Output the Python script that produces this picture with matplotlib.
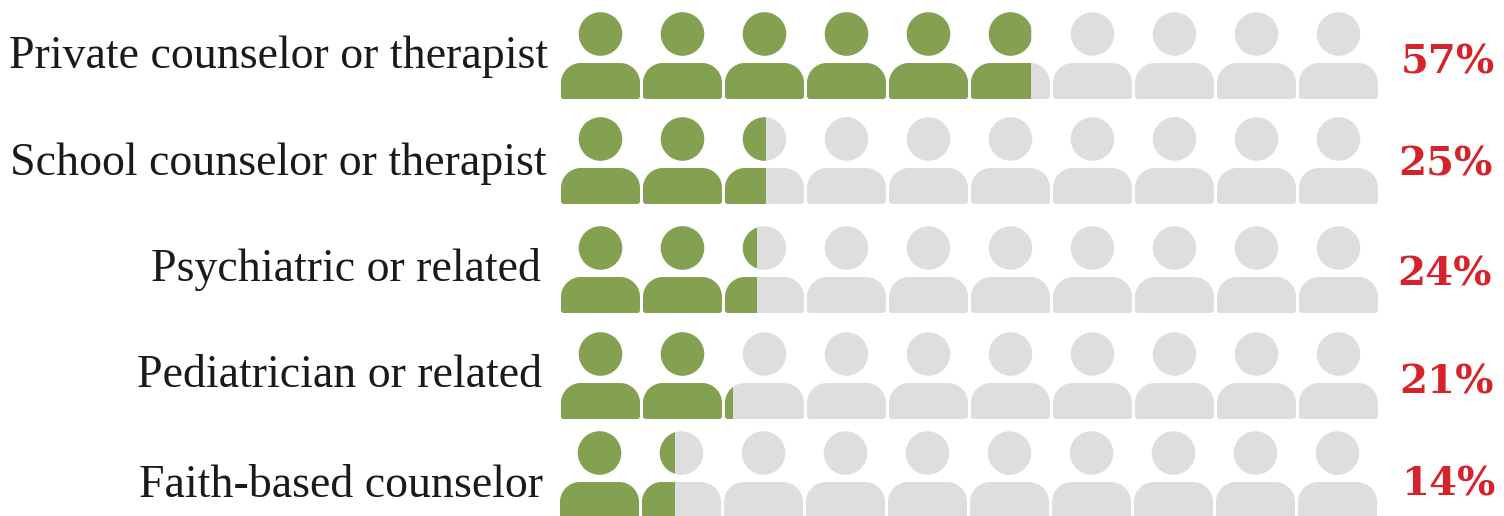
import matplotlib
matplotlib.use("Agg")
import matplotlib.pyplot as plt
from matplotlib.patches import Ellipse, PathPatch, Rectangle
from matplotlib.path import Path

categories = ["Private counselor or therapist", "School counselor or therapist",
              "Psychiatric or related", "Pediatrician or related", "Faith-based counselor"]
values = [57.4, 25, 24, 21, 14]
value_labels = ["57%", "25%", "24%", "21%", "14%"]
n_icons = 10

GREEN = "#84A151"; GREY = "#DEDEDE"; RED = "#D6232B"; INK = "#1A1A1A"
W, H = 1504, 516
PX_PER_PCT = 8.18
X0 = 561

head_y = [34, 139, 248, 354, 453]
body_top = [63, 168, 277, 383, 482]
row_dx = [0, 0, 0, 0, -1]
label_right = [548, 547, 541, 542, 543]
label_base = [68, 175, 281, 387, 497]
pct_x = [1448, 1445, 1444, 1446, 1448]
pct_base = [73.5, 175, 286, 393, 495]
label_fs = 33

fig = plt.figure(figsize=(W/100, H/100), dpi=100)
ax = fig.add_axes([0, 0, 1, 1])
ax.set_xlim(-X0/PX_PER_PCT, (W-X0)/PX_PER_PCT)
ax.set_ylim(H, 0)
ax.axis("off")

def px(p):
    return p/PX_PER_PCT

def body_path(xl, top, w=79, h=36, r1=20, r2=3):
    xr = xl+w; b = top+h
    k = 0.5523
    P = [(xl, b-r2), (xl, top+r1), (xl, top+r1-k*r1), (xl+r1-k*r1, top), (xl+r1, top),
         (xr-r1, top), (xr-r1+k*r1, top), (xr, top+r1-k*r1), (xr, top+r1),
         (xr, b-r2), (xr, b-r2+k*r2), (xr-r2+k*r2, b), (xr-r2, b),
         (xl+r2, b), (xl+r2-k*r2, b), (xl, b-r2+k*r2), (xl, b-r2), (xl, b-r2)]
    C = [Path.MOVETO, Path.LINETO, Path.CURVE4, Path.CURVE4, Path.CURVE4, Path.LINETO,
         Path.CURVE4, Path.CURVE4, Path.CURVE4, Path.LINETO, Path.CURVE4, Path.CURVE4, Path.CURVE4,
         Path.LINETO, Path.CURVE4, Path.CURVE4, Path.CURVE4, Path.CLOSEPOLY]
    return Path([(px(x-X0), y) for x, y in P], C)

for r, v in enumerate(values):
    for i in range(n_icons):
        xl = X0 + row_dx[r] + i*82
        shapes = [lambda: Ellipse((px(xl+39.5-X0), head_y[r]), px(43.5), 43.5, lw=0),
                  lambda: PathPatch(body_path(xl, body_top[r]), lw=0)]
        for mk in shapes:
            g = mk(); g.set_facecolor(GREY); ax.add_patch(g)
            f = mk(); f.set_facecolor(GREEN); ax.add_patch(f)
            clip = Rectangle((-X0/PX_PER_PCT, 0), X0/PX_PER_PCT + v + row_dx[r]/PX_PER_PCT, H,
                             transform=ax.transData)
            f.set_clip_path(clip)
    ax.text(px(label_right[r]-X0), label_base[r], categories[r], ha="right", va="baseline",
            family="Liberation Serif", fontsize=label_fs, color=INK)
    ax.text(px(pct_x[r]-X0), pct_base[r], value_labels[r], ha="center", va="baseline",
            family="DejaVu Serif", weight="bold", fontsize=29, color=RED)

fig.savefig("out.png", dpi=100)
